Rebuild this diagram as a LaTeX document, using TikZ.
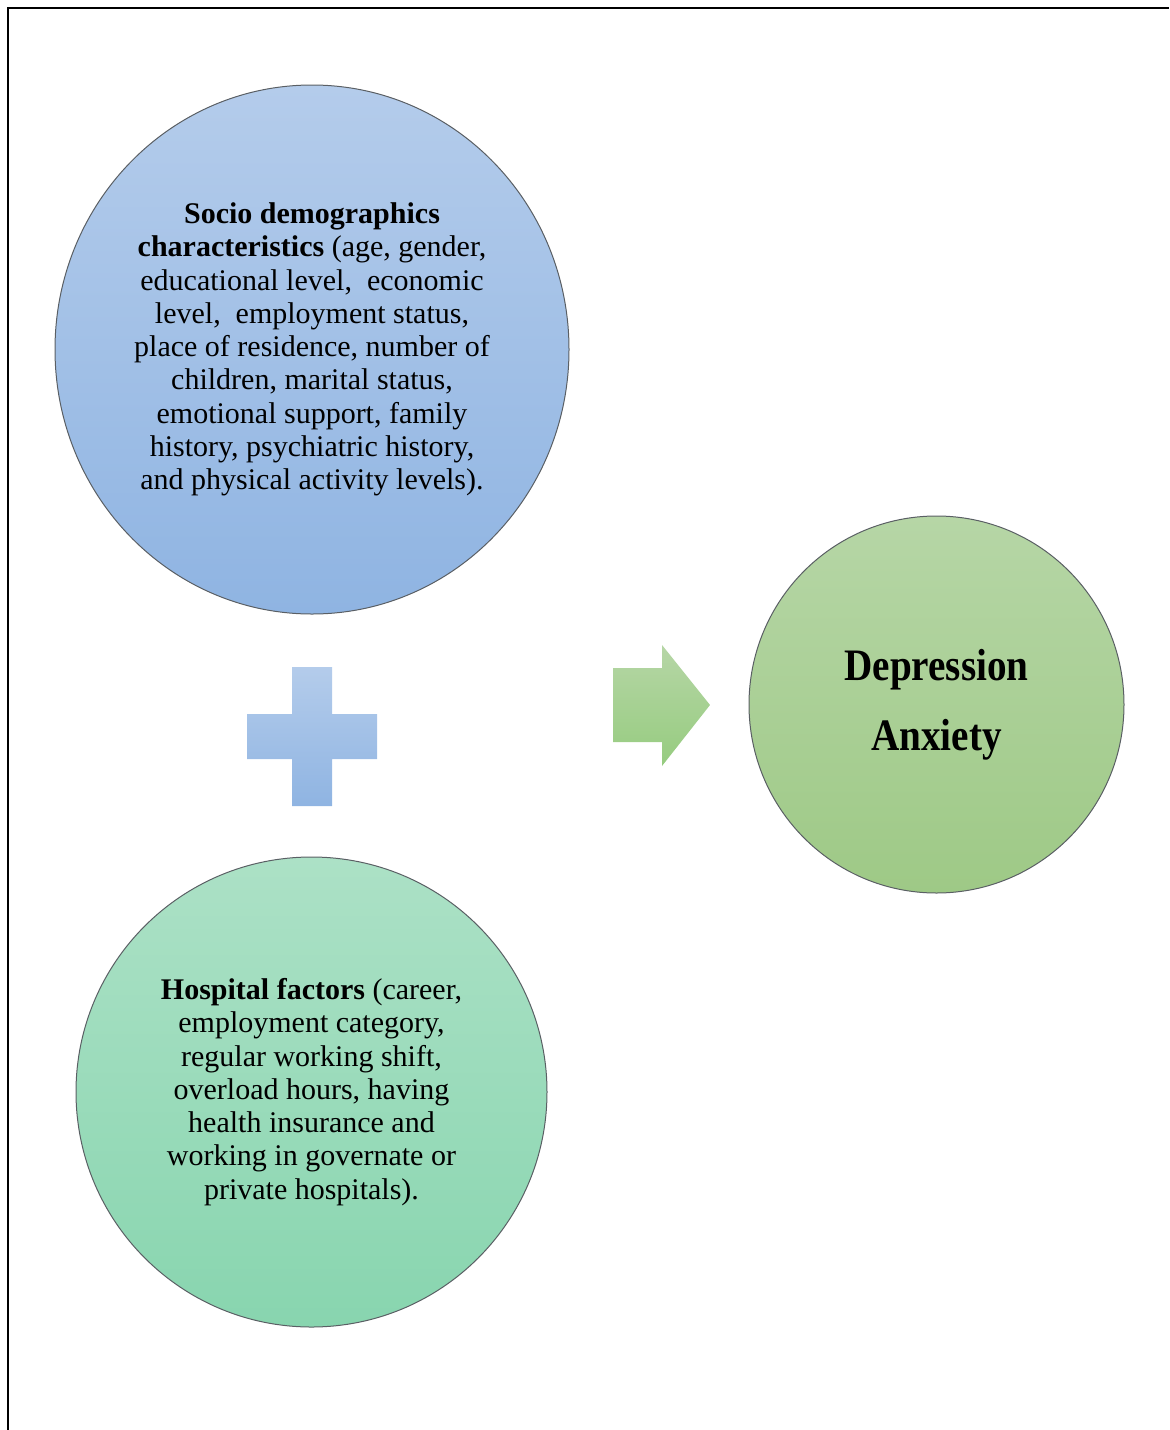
\documentclass[tikz,border=0pt]{standalone}
\usepackage{fontspec}
\setmainfont{Liberation Serif}
\newfontfamily\narrowserif{Liberation Serif}[FakeStretch=0.87]
\usepackage{xcolor}
\usepackage{tikz}
\usetikzlibrary{shapes.geometric}

\definecolor{blueTop}{RGB}{180,204,235}
\definecolor{blueBot}{RGB}{143,180,226}
\definecolor{greenTop}{RGB}{182,214,166}
\definecolor{greenBot}{RGB}{158,201,134}
\definecolor{mintTop}{RGB}{172,225,198}
\definecolor{mintBot}{RGB}{136,213,175}
\definecolor{rimGray}{RGB}{90,95,100}

\tikzset{
  factor/.style = {ellipse, draw = rimGray, line width = 0.5pt, inner sep = 0pt,
                   align = center, text = black,
                   font = \fontsize{15}{16.65}\selectfont},
  blueball/.style = {factor, top color = blueTop, bottom color = blueBot},
  greenball/.style = {factor, top color = greenTop, bottom color = greenBot},
  mintball/.style = {factor, top color = mintTop, bottom color = mintBot}
}

\begin{document}
\begin{tikzpicture}[x = 0.5pt, y = -0.5pt]

\useasboundingbox (0,0) rectangle (1169,1430);

% frame
\draw[line width = 1pt] (8,1430) -- (8,8) -- (1169,8);

\node[blueball, minimum width = 257pt, minimum height = 264.5pt] (socio) at (312,349.5)
{\textbf{Socio demographics}\\
 \textbf{characteristics} (age, gender,\\
 educational level,\ \ economic\\
 level,\ \ employment status,\\
 place of residence, number of\\
 children, marital status,\\
 emotional support, family\\
 history, psychiatric history,\\
 and physical activity levels).};

\node[mintball, minimum width = 235.5pt, minimum height = 235pt] (hosp) at (311.5,1092)
{\textbf{Hospital factors} (career,\\
 employment category,\\
 regular working shift,\\
 overload hours, having\\
 health insurance and\\
 working in governate or\\
 private hospitals).};

\node[greenball, minimum width = 187.5pt, minimum height = 188.5pt,
      font = \fontsize{22.5}{35}\selectfont\narrowserif\bfseries] (outcome) at (936.5,704.5)
{Depression\\ Anxiety};

% plus sign
\shade[top color = blueTop, bottom color = blueBot]
  (292,667) -- (332,667) -- (332,714) -- (377,714) -- (377,759) -- (332,759)
  -- (332,806) -- (292,806) -- (292,759) -- (247,759) -- (247,714) -- (292,714) -- cycle;

% block arrow
\shade[top color = greenTop, bottom color = greenBot!95!green]
  (613,668) -- (662,668) -- (662,645) -- (710,705) -- (662,766) -- (662,742)
  -- (613,742) -- cycle;

\end{tikzpicture}
\end{document}
